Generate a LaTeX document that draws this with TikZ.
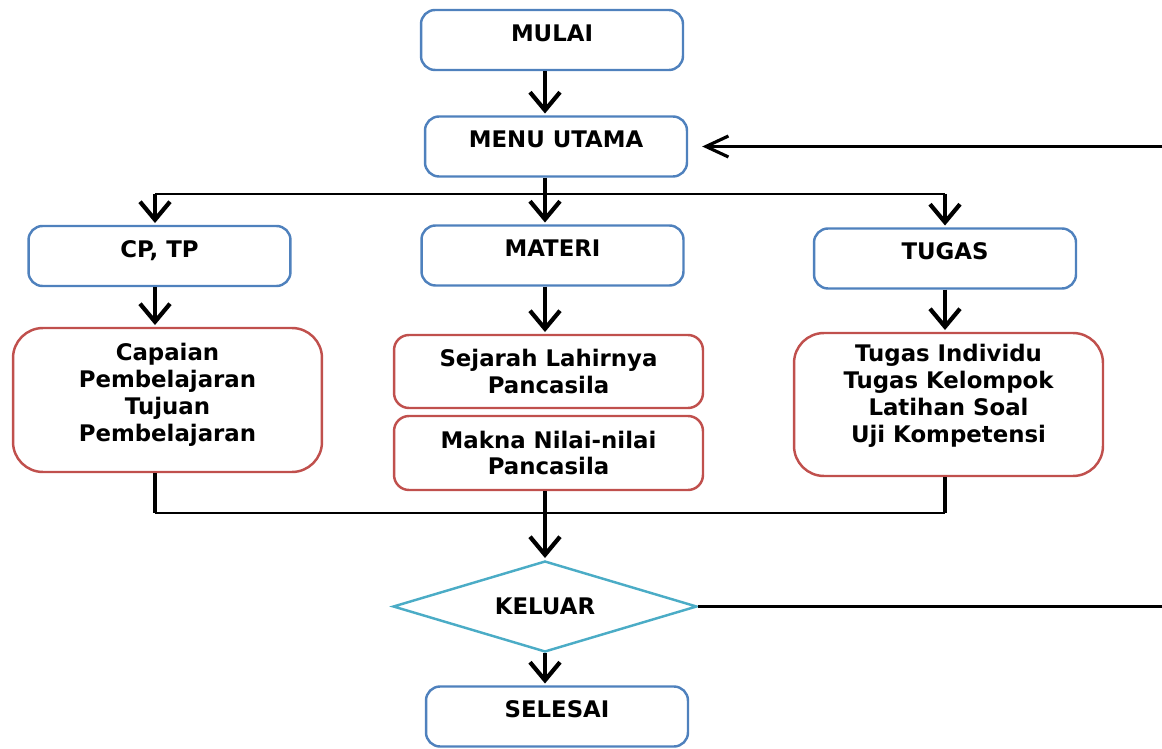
\documentclass[tikz,border=0pt]{standalone}
\usepackage{fontspec}
\setmainfont{DejaVu Sans}
\usetikzlibrary{arrows.meta, shapes.geometric}

\definecolor{biru}{RGB}{79,129,189}
\definecolor{merah}{RGB}{192,80,77}
\definecolor{toska}{RGB}{75,172,198}

\tikzset{
  huruf/.style={font=\fontsize{13}{15.3}\selectfont\bfseries},
  kotak/.style={huruf, draw=biru, line width=1.4pt, rounded corners=0.28cm,
    minimum width=5.24cm, minimum height=1.2cm, text depth=0.28cm},
  isi/.style={huruf, draw=merah, line width=1.4pt, rounded corners=0.6cm,
    minimum width=6.18cm, align=center},
  belah/.style={huruf, diamond, aspect=3.34, draw=toska, line width=1.4pt, inner sep=0pt,
    minimum width=6.08cm, minimum height=1.82cm},
  panah/.style={line width=2.4pt, -{Straight Barb[length=0.36cm, width=0.6cm]}, shorten >=1pt},
  tebal/.style={line width=2.4pt},
  garis/.style={line width=1.3pt}
}

\begin{document}
\begin{tikzpicture}[x=0.02cm, y=-0.02cm]
    \useasboundingbox (0,0) rectangle (1162,749);
    % kotak menu
    \node[kotak] (mulai) at (552,40) {MULAI};
    \node[kotak] (menu) at (556,146.5) {MENU UTAMA};
    \node[kotak] (cp) at (159.5,256) {CP, TP};
    \node[kotak] (materi) at (552.5,255.5) {MATERI};
    \node[kotak] (tugas) at (945,258.5) {TUGAS};
    % kotak isi
    \node[isi, minimum height=2.88cm, text depth=0.3cm] (capaian) at (167.5,400)
        {Capaian\\Pembelajaran\\Tujuan\\Pembelajaran};
    \node[isi, rounded corners=0.3cm, minimum height=1.46cm] (sejarah) at (548.5,371.5)
        {Sejarah Lahirnya\\Pancasila};
    \node[isi, rounded corners=0.3cm, minimum height=1.48cm] (makna) at (548.5,453)
        {Makna Nilai-nilai\\Pancasila};
    \node[isi, minimum height=2.86cm, text depth=0.45cm] (latihan) at (948.5,404.5)
        {Tugas Individu\\Tugas Kelompok\\Latihan Soal\\Uji Kompetensi};
    \node[belah] (keluar) at (545,606.5) {KELUAR};
    \node[kotak] (selesai) at (557,716.5) {SELESAI};

    \coordinate (cabang) at (545,194);
    \coordinate (kiri) at (155,194);
    \coordinate (kanan) at (945,194);
    \coordinate (gabung) at (545,513);
    \coordinate (tepi) at (1162,0);

    \draw[panah] (mulai.south -| cabang) -- (menu.north -| cabang);
    \draw[panah] (menu.south -| cabang) -- (materi.north -| cabang);
    \draw[garis] (kiri) -- (kanan);
    \draw[panah] (kiri) -- (cp.north -| kiri);
    \draw[panah] (kanan) -- (tugas.north -| kanan);
    \draw[panah] (cp.south -| kiri) -- (capaian.north -| kiri);
    \draw[panah] (materi.south -| cabang) -- (sejarah.north -| cabang);
    \draw[panah] (tugas.south -| kanan) -- (latihan.north -| kanan);
    % gabungan ke keluar
    \draw[tebal] (capaian.south -| kiri) -- (kiri |- gabung);
    \draw[tebal] (latihan.south -| kanan) -- (kanan |- gabung);
    \draw[garis] (kiri |- gabung) -- (kanan |- gabung);
    \draw[panah] (makna.south -| cabang) -- (keluar.north);
    \draw[panah] (keluar.south) -- (selesai.north -| keluar);
    % kembali ke menu utama
    \draw[garis] (keluar.east) -- (keluar.east -| tepi);
    \draw[line width=1.8pt, -{Straight Barb[length=0.45cm, width=0.42cm]}, shorten >=0.28cm]
        (menu.east -| tepi) -- (menu.east);
\end{tikzpicture}
\end{document}
